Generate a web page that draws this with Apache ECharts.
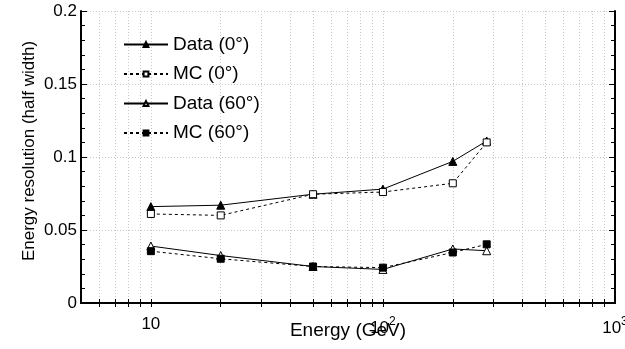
<!DOCTYPE html>
<html>
<head>
<meta charset="utf-8">
<script src="https://cdn.jsdelivr.net/npm/echarts@6/dist/echarts.min.js"></script>
<style>
  html, body { margin: 0; padding: 0; background: #fff; }
  #chart { width: 625px; height: 349px; }
</style>
</head>
<body>
<div id="chart"></div>
<script>
const energies = [10, 20, 50, 100, 200, 280];
const data0 = [0.066, 0.067, 0.0745, 0.078, 0.097, 0.111];
const mc0 = [0.061, 0.060, 0.0745, 0.076, 0.082, 0.110];
const data60 = [0.039, 0.0325, 0.025, 0.023, 0.037, 0.0358];
const mc60 = [0.0355, 0.0303, 0.025, 0.0242, 0.0346, 0.0402];

const xLabels = [10, 100, 1000];
const xTicks = [6, 7, 8, 9, 10, 20, 30, 40, 50, 60, 70, 80, 90, 100,
  200, 300, 400, 500, 600, 700, 800, 900];

const font = "Liberation Sans, Arial, Helvetica, sans-serif";
const pairs = (ys) => energies.map((e, i) => [e, ys[i]]);

const chart = echarts.init(document.getElementById("chart"));

const gridLine = { show: true, lineStyle: { color: "#c8c8c8", type: [1, 2], width: 1 } };

function makeSeries(name, ys, symbol, filled, dashed) {
  return {
    name: name,
    type: "line",
    data: pairs(ys),
    symbol: symbol,
    symbolSize: symbol === "triangle" ? 8 : 7,
    lineStyle: { color: "#000", width: 1, type: dashed ? [3, 3] : "solid" },
    itemStyle: {
      color: filled ? "#000" : "#fff",
      borderColor: "#000",
      borderWidth: 1,
    },
    emphasis: { disabled: true },
  };
}

const option = {
  animation: false,
  grid: { left: 81, right: 10, top: 11, bottom: 46, outerBoundsMode: "none", containLabel: false },
  legend: {
    orient: "vertical",
    left: 118,
    top: 30,
    itemWidth: 44,
    itemHeight: 6,
    itemGap: 10.5,
    textStyle: { fontFamily: font, fontSize: 19, color: "#000", lineHeight: 19 },
    data: ["Data (0°)", "MC (0°)", "Data (60°)", "MC (60°)"],
  },
  xAxis: [
    {
      type: "log",
      logBase: 10,
      min: 5,
      max: 1000,
      position: "bottom",
      name: "Energy (GeV)",
      nameLocation: "middle",
      nameGap: 18,
      nameMoveOverlap: false,
      nameTextStyle: { fontFamily: font, fontSize: 19, color: "#000" },
      axisLine: { show: true, lineStyle: { color: "#000", width: 2 } },
      axisTick: { show: true, inside: true, length: 4, customValues: xTicks, lineStyle: { color: "#000" } },
      axisLabel: {
        customValues: xLabels,
        margin: 13,
        fontFamily: font,
        fontSize: 17,
        color: "#000",
        formatter: (v) => {
          const p = Math.round(Math.log10(v));
          return p === 1 ? "10" : "10{sup|" + p + "}";
        },
        rich: { sup: { fontFamily: font, fontSize: 12, color: "#000", verticalAlign: "top", padding: [0, 0, 12, 0] } },
      },
      splitLine: gridLine,
    },
    {
      type: "log",
      logBase: 10,
      min: 5,
      max: 1000,
      position: "top",
      axisLine: { show: true, lineStyle: { color: "#000", width: 2 } },
      axisTick: { show: true, inside: true, length: 4, customValues: xTicks, lineStyle: { color: "#000" } },
      axisLabel: { show: false },
      splitLine: { show: false },
    },
  ],
  yAxis: [
    {
      type: "value",
      min: 0,
      max: 0.2,
      interval: 0.05,
      position: "left",
      name: "Energy resolution (half width)",
      nameLocation: "middle",
      nameGap: 43,
      nameMoveOverlap: false,
      nameTextStyle: { fontFamily: font, fontSize: 17, color: "#000", padding: [0, 0, 0, 12] },
      axisLine: { show: true, lineStyle: { color: "#000", width: 2 } },
      axisTick: { show: true, inside: true, length: 6, lineStyle: { color: "#000" } },
      minorTick: { show: true, splitNumber: 5, length: 4, lineStyle: { color: "#000" } },
      axisLabel: { margin: 4, fontFamily: font, fontSize: 17, color: "#000" },
      splitLine: gridLine,
    },
    {
      type: "value",
      min: 0,
      max: 0.2,
      interval: 0.05,
      position: "right",
      axisLine: { show: true, lineStyle: { color: "#000", width: 2 } },
      axisTick: { show: true, inside: true, length: 6, lineStyle: { color: "#000" } },
      minorTick: { show: true, splitNumber: 5, length: 4, lineStyle: { color: "#000" } },
      axisLabel: { show: false },
      splitLine: { show: false },
    },
  ],
  series: [
    makeSeries("Data (0°)", data0, "triangle", true, false),
    makeSeries("MC (0°)", mc0, "rect", false, true),
    makeSeries("Data (60°)", data60, "triangle", false, false),
    makeSeries("MC (60°)", mc60, "rect", true, true),
  ],
};

chart.setOption(option);
</script>
</body>
</html>
